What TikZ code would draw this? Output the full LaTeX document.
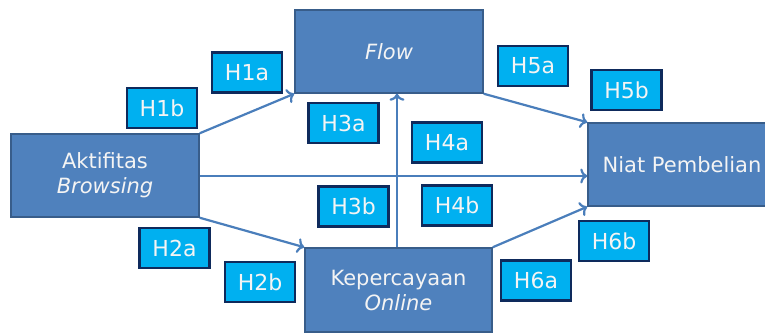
\documentclass[tikz,border=0pt]{standalone}
\usepackage{fontspec}
\setmainfont{DejaVu Sans}
\usetikzlibrary{arrows.meta}
\definecolor{boxfill}{HTML}{4F81BD}
\definecolor{boxline}{HTML}{385D8A}
\definecolor{arrowc}{HTML}{4A7EBB}
\definecolor{labfill}{HTML}{00B0F0}
\definecolor{labline}{HTML}{0E2A5C}
\definecolor{txt}{HTML}{F4F4F4}
\tikzset{
  varbox/.style={draw=boxline, line width=1.5pt, fill=boxfill, minimum width=188pt, minimum height=83pt,
    inner sep=0pt, text=txt, align=center, font=\fontsize{21}{25}\selectfont},
  hlab/.style={draw=labline, line width=2.8pt, fill=labfill, minimum width=70pt, minimum height=40pt,
    inner sep=0pt, text=txt, font=\fontsize{22}{24}\selectfont},
  conn/.style={draw=arrowc, line width=2.2pt, -{To[length=7pt,width=15pt]}}
}
\begin{document}
\begin{tikzpicture}[x=1pt,y=-1pt]
\useasboundingbox (0,0) rectangle (765,334);
\clip (0,0) rectangle (765,334);
\node[varbox] (akt) at (105,175.5) {Aktifitas\\\textit{Browsing}};
\node[varbox] (flow) at (389,51.5) {\textit{Flow}};
\node[varbox, minimum width=187pt, minimum height=84pt] (kep) at (398.5,290) {Kepercayaan\\\textit{Online}};
\node[varbox] (niat) at (682,164.5) {Niat Pembelian};

\node[hlab] (h1a) at (247,72.5) {H1a};
\node[hlab] (h1b) at (162,108) {H1b};
\node[hlab] (h3a) at (343.5,123) {H3a};
\node[hlab] (h3b) at (353.5,206.5) {H3b};
\node[hlab] (h2a) at (174.5,248) {H2a};
\node[hlab] (h2b) at (260,282) {H2b};
\node[hlab] (h4a) at (447,142.5) {H4a};
\node[hlab] (h4b) at (457,205.5) {H4b};
\node[hlab] (h5a) at (533,66) {H5a};
\node[hlab] (h5b) at (626.5,90) {H5b};
\node[hlab] (h6b) at (614,241) {H6b};
\node[hlab] (h6a) at (536,280.5) {H6a};

\draw[conn] (akt.north east) -- (flow.south west);
\draw[conn] (akt.south east) -- (kep.north west);
\draw[conn] ([yshift=-0.5pt]akt.east) -- ([yshift=-0.5pt]akt.east -| niat.west);
\draw[conn] ([xshift=-1.5pt]kep.north) -- ([xshift=-1.5pt]kep.north |- flow.south);
\draw[conn] (flow.south east) -- (niat.north west);
\draw[conn] (kep.north east) -- (niat.south west);
\end{tikzpicture}
\end{document}
